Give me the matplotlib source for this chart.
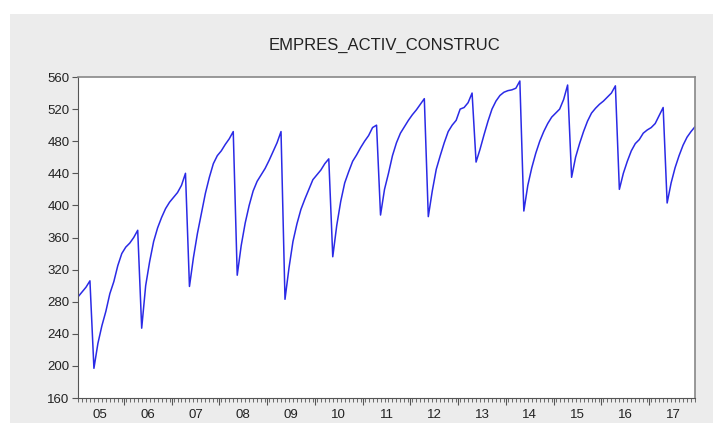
import matplotlib.pyplot as plt
from matplotlib.patches import Rectangle
from matplotlib.ticker import FixedLocator, NullFormatter

# monthly series, Jan 2005 - Dec 2017
values = [
    286, 292, 298, 306,
    197, 228, 250, 268, 290, 305, 325, 340, 348, 353, 360, 369,
    247, 300, 330, 355, 372, 385, 396, 404, 410, 416, 425, 440,
    299, 335, 365, 390, 415, 435, 452, 462, 468, 476, 483, 492,
    313, 350, 378, 400, 418, 430, 438, 446, 456, 467, 478, 492,
    283, 322, 355, 377, 395, 408, 420, 432, 438, 444, 452, 458,
    336, 375, 405, 428, 442, 455, 463, 472, 480, 487, 497, 500,
    388, 420, 440, 462, 478, 490, 498, 506, 513, 519, 526, 533,
    386, 418, 445, 462, 478, 492, 500, 506, 520, 522, 528, 540,
    454, 470, 488, 505, 520, 530, 537, 541, 543, 544, 546, 555,
    393, 425, 447, 465, 480, 492, 502, 510, 515, 520, 532, 550,
    435, 460, 477, 492, 505, 515, 521, 526, 530, 535, 540, 549,
    420, 440, 455, 468, 477, 482, 490, 494, 497, 502, 512, 522,
    403, 428, 447, 462, 475, 485, 492, 498,
]
year_labels = ['05', '06', '07', '08', '09', '10', '11', '12', '13', '14', '15', '16', '17']
y_ticks = [160, 200, 240, 280, 320, 360, 400, 440, 480, 520, 560]
title = 'EMPRES_ACTIV_CONSTRUC'

plt.rcParams['font.family'] = ['Liberation Sans', 'DejaVu Sans']

fig = plt.figure(figsize=(7.13, 4.23), dpi=100)
fig.patch.set_facecolor('white')
fig.patches.append(Rectangle((10 / 713, 0), 1, 1 - 14 / 423, transform=fig.transFigure,
                             facecolor='#ececec', edgecolor='none', zorder=-10))

ax = fig.add_axes([78 / 713, 1 - 398 / 423, (695 - 78) / 713, (398 - 77) / 423])
ax.set_facecolor('white')

x = list(range(len(values)))
ax.plot(x, values, color='#2a2ae6', linewidth=1.1)

ax.set_xlim(0, len(values) - 1)
ax.set_ylim(160, 560)
ax.set_yticks(y_ticks)
ax.tick_params(axis='y', direction='out', length=4, width=0.8, colors='#555555',
               labelcolor='#222222', labelsize=9.5, pad=2)

# month ticks, longer ticks at year boundaries, labels centred in each year
boundaries = [12 * k - 0.5 for k in range(1, len(year_labels))]
ax.xaxis.set_major_locator(FixedLocator(boundaries))
ax.xaxis.set_major_formatter(NullFormatter())
ax.xaxis.set_minor_locator(FixedLocator(x))
ax.tick_params(axis='x', which='major', direction='out', length=5, width=0.8, colors='#555555')
ax.tick_params(axis='x', which='minor', direction='out', length=3, width=0.6, colors='#555555')
for k, lab in enumerate(year_labels):
    ax.text(12 * k + 5.5, -0.035, lab, transform=ax.get_xaxis_transform(),
            ha='center', va='top', fontsize=9.5, color='#222222')

for side in ['left', 'bottom']:
    ax.spines[side].set_color('#555555')
for side in ['top', 'right']:
    ax.spines[side].set_color('#888888')
    ax.spines[side].set_linewidth(1.2)

fig.text(385 / 713, 1 - 45 / 423, title, ha='center', va='center', fontsize=12, color='#222222')

fig.savefig('out.png', dpi=100, facecolor=fig.get_facecolor())
